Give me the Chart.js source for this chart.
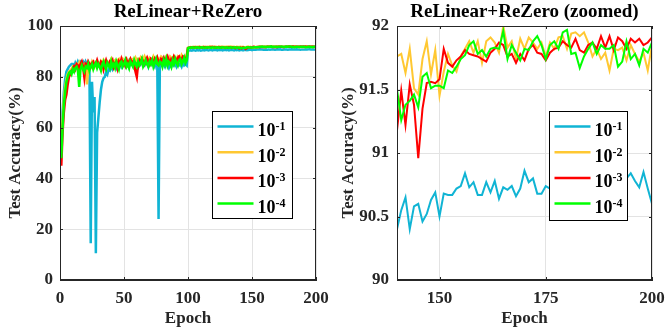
<!DOCTYPE html>
<html>
<head>
<meta charset="utf-8">
<script src="https://cdn.jsdelivr.net/npm/chart.js@4.4.1/dist/chart.umd.min.js"></script>
<style>
  html, body { margin: 0; padding: 0; background: #fff; }
  #wrap { position: relative; width: 665px; height: 333px; }
  #left { position: absolute; left: 0; top: 0; }
  #right { position: absolute; left: 332px; top: 0; }
</style>
</head>
<body>
<div id="wrap">
  <canvas id="left" width="332" height="333"></canvas>
  <canvas id="right" width="333" height="333"></canvas>
</div>
<script>
// test accuracy (%) per epoch (epochs 1..200)
const epochs = Array.from({ length: 200 }, (_, i) => i + 1);
const seriesLabels = ['10^-1', '10^-2', '10^-3', '10^-4'];
const seriesColors = ['#10b4d4', '#ffc832', '#ff0000', '#00ff00'];

const acc1 = [
  50, 66, 74, 79, 82, 83, 84, 84.5, 85, 85,
  84, 85.5, 84.5, 86, 85, 86, 85.5, 86, 84.5, 86,
  85, 84, 83, 14.5, 78, 66, 72, 10.5, 58, 64,
  70, 75, 78, 79.5, 80, 82, 81, 83, 82.5, 84,
  83, 84.5, 85, 83.5, 85, 84, 85.5, 84, 85, 86,
  84.5, 85, 86, 84, 85.5, 86, 84.5, 85, 86.5, 85,
  84, 86, 85, 86.5, 85, 84.5, 86, 85.5, 84, 86,
  85, 86.5, 85, 84, 86, 85, 24, 84, 85.5, 84.5,
  85, 84, 85.5, 84.5, 83.5, 85, 84, 85.5, 84.5, 85,
  84, 85.5, 84.5, 85, 84, 85.5, 84.5, 85, 84.5, 90.2,
  90.3, 90.4, 90.3, 90.5, 90.4, 90.3, 90.5, 90.4, 90.5, 90.3,
  90.4, 90.5, 90.4, 90.6, 90.5, 90.4, 90.5, 90.6, 90.4, 90.5,
  90.6, 90.5, 90.4, 90.6, 90.5, 90.6, 90.4, 90.5, 90.6, 90.5,
  90.6, 90.4, 90.5, 90.6, 90.5, 90.4, 90.6, 90.5, 90.6,
  90.40, 90.55, 90.65, 90.40, 90.58, 90.60, 90.46, 90.52, 90.63, 90.69,
  90.50, 90.68, 90.67, 90.67, 90.72, 90.74, 90.84, 90.73, 90.77, 90.67,
  90.67, 90.77, 90.69, 90.78, 90.64, 90.73, 90.71, 90.74, 90.66, 90.72,
  90.86, 90.77, 90.80, 90.68, 90.68, 90.74, 90.72, 90.78, 90.70, 90.76,
  90.74, 90.80, 90.71, 90.77, 90.75, 90.82, 90.73, 90.78, 90.70, 90.79,
  90.74, 90.77, 90.72, 90.76, 90.80, 90.84, 90.78, 90.73, 90.85, 90.72, 90.60
];

const acc2 = [
  52, 63, 71, 76, 79, 81, 82, 82.5, 83, 84,
  83.5, 84, 85, 84, 85.5, 84, 85, 84.5, 85, 84,
  77, 83, 85, 84.5, 86, 85, 84, 85.5, 86, 85,
  84.5, 86, 85, 86.5, 85.5, 84.5, 86, 85.5, 86, 87,
  85, 86, 86.5, 85, 86.5, 87, 85.5, 86, 87, 86,
  86.5, 87, 85.5, 86, 87, 86.5, 87, 86, 87.5, 86.5,
  87, 86, 87.5, 86.5, 87, 88, 86.5, 87, 86, 87.5,
  87, 86.5, 88, 87, 86.5, 87.5, 86, 87, 88, 87.5,
  86.5, 87, 88, 87, 86.5, 88, 87.5, 87, 88, 87,
  86.5, 88, 87.5, 87, 88.5, 87.5, 88, 87, 88.5, 91.4,
  91.6, 91.7, 91.6, 91.8, 91.7, 91.6, 91.8, 91.7, 91.8, 91.6,
  91.7, 91.8, 91.7, 91.6, 91.8, 91.7, 91.8, 91.9, 91.7, 91.8,
  91.7, 91.8, 91.6, 91.8, 91.7, 91.9, 91.7, 91.8, 91.7, 91.8,
  91.8, 91.7, 91.9, 91.8, 91.7, 91.8, 91.6, 91.8, 91.7,
  91.76, 91.78, 91.63, 91.82, 91.51, 91.46, 91.74, 91.88, 91.62, 91.81,
  91.45, 91.64, 91.78, 91.69, 91.64, 91.76, 91.82, 91.88, 91.79, 91.88,
  91.71, 91.88, 91.91, 91.87, 91.79, 92.00, 91.83, 91.88, 91.74, 91.90,
  91.82, 91.91, 91.87, 91.82, 91.87, 91.76, 91.87, 91.82, 91.91, 91.92,
  91.82, 91.94, 91.95, 91.92, 91.95, 91.87, 91.76, 91.82, 91.74, 91.79,
  91.65, 91.82, 91.81, 91.83, 91.73, 91.85, 91.78, 91.72, 91.79, 91.65, 91.85
];

const acc3 = [
  45, 58, 66, 71, 73, 77, 80, 81, 82, 83,
  84, 83, 85, 84.5, 83, 85, 86, 84, 80, 85,
  84.5, 86, 85, 84, 85.5, 86, 84.5, 85, 86.5, 85,
  84, 86, 85.5, 83, 85, 86.5, 85, 84.5, 86, 85.5,
  86.5, 84, 85.5, 86, 83.5, 86, 85, 87, 85.5, 86,
  84.5, 86.5, 85, 86, 87, 85.5, 86, 84.5, 82, 80,
  85, 86.5, 85.5, 87, 86, 85, 86.5, 87.5, 86, 85,
  87, 86.5, 85.5, 87, 86, 87.5, 86, 85.5, 87, 86.5,
  87.5, 86, 87, 88, 86.5, 85.5, 87, 86.5, 88, 87,
  86, 87.5, 88, 86.5, 87, 88, 87.5, 86.5, 88, 91.3,
  91.4, 91.5, 91.6, 91.5, 91.6, 91.7, 91.5, 91.6, 91.7, 91.6,
  91.5, 91.7, 91.6, 91.7, 91.5, 91.6, 91.7, 91.6, 91.8, 91.6,
  91.7, 91.5, 91.6, 91.7, 91.6, 91.5, 91.7, 91.6, 91.4, 91.6,
  91.5, 91.7, 91.6, 91.4, 91.6, 91.5, 91.3, 91.5, 91.4,
  91.18, 91.49, 91.22, 91.54, 91.38, 90.96, 91.35, 91.55, 91.56, 91.55,
  91.58, 91.82, 91.71, 91.68, 91.73, 91.76, 91.81, 91.78, 91.77, 91.76,
  91.74, 91.72, 91.79, 91.82, 91.87, 91.85, 91.76, 91.78, 91.71, 91.78,
  91.73, 91.82, 91.85, 91.79, 91.78, 91.73, 91.79, 91.82, 91.83, 91.88,
  91.85, 91.83, 91.90, 91.81, 91.79, 91.85, 91.87, 91.82, 91.92, 91.83,
  91.92, 91.81, 91.91, 91.88, 91.82, 91.90, 91.87, 91.90, 91.85, 91.87, 91.91
];

const acc4 = [
  48, 60, 69, 74, 78, 80, 81.5, 82, 81, 83,
  82, 83.5, 84, 82.5, 76, 83, 84.5, 83, 82, 84,
  83.5, 85, 82.5, 84, 85, 83, 84.5, 85.5, 83.5, 85,
  84, 82.5, 85, 86, 84, 83, 85.5, 84.5, 83.5, 86,
  84, 85, 83.5, 86, 84.5, 83, 85.5, 86, 84, 85,
  86.5, 84, 85, 83.5, 86, 85, 84, 86.5, 85, 84,
  86, 84.5, 85.5, 87, 84, 85, 86.5, 85, 84, 86,
  85, 86.5, 84, 85.5, 87, 85, 84.5, 86, 85.5, 84,
  86.5, 85, 87, 84.5, 86, 85.5, 84, 86.5, 85, 87,
  85.5, 84.5, 86.5, 87, 85, 86, 87.5, 85.5, 86.5, 91.3,
  91.5, 91.4, 91.6, 91.5, 91.4, 91.6, 91.5, 91.6, 91.4, 91.5,
  91.6, 91.5, 91.4, 91.6, 91.5, 91.6, 91.5, 91.4, 91.6, 91.5,
  91.4, 91.6, 91.5, 91.6, 91.4, 91.5, 91.6, 91.5, 91.4, 91.6,
  91.5, 91.4, 91.6, 91.5, 91.4, 91.5, 91.6, 91.4, 91.5,
  91.50, 91.26, 91.38, 91.41, 91.46, 91.36, 91.60, 91.63, 91.51, 91.53,
  91.53, 91.51, 91.65, 91.63, 91.68, 91.74, 91.77, 91.85, 91.88, 91.78,
  91.81, 91.76, 91.82, 91.83, 91.82, 91.96, 91.74, 91.85, 91.79, 91.73,
  91.82, 91.81, 91.88, 91.92, 91.85, 91.74, 91.85, 91.88, 91.82, 91.95,
  91.97, 91.78, 91.79, 91.67, 91.76, 91.82, 91.87, 91.78, 91.85, 91.82,
  91.82, 91.85, 91.68, 91.72, 91.88, 91.74, 91.78, 91.69, 91.82, 91.79, 91.87
];

const fullXTicks = [0, 50, 100, 150, 200];
const fullYTicks = [0, 20, 40, 60, 80, 100];
const zoomXTicks = [150, 175, 200];
const zoomYTicks = [90, 90.5, 91, 91.5, 92];

const allSeries = [acc1, acc2, acc3, acc4];
const FONT = "'Liberation Serif', 'Times New Roman', serif";
const AXIS = '#262626';

function makeDatasets(lineWidth) {
  return allSeries.map((vals, i) => ({
    label: seriesLabels[i],
    data: vals.map((v, j) => ({ x: epochs[j], y: v })),
    borderColor: seriesColors[i],
    backgroundColor: seriesColors[i],
    borderWidth: lineWidth,
    pointRadius: 0,
    tension: 0,
    order: 3 - i
  }));
}

// MATLAB style box with inward ticks on all four sides
const axesBox = {
  id: 'axesBox',
  afterDatasetsDraw(chart) {
    const { ctx, chartArea: a, scales: { x, y } } = chart;
    const len = 3;
    ctx.save();
    ctx.strokeStyle = AXIS;
    ctx.lineWidth = 1;
    ctx.strokeRect(Math.round(a.left) + 0.5, Math.round(a.top) + 0.5,
      Math.round(a.width) - 1, Math.round(a.height) - 1);
    ctx.beginPath();
    x.ticks.forEach(t => {
      const px = Math.round(x.getPixelForValue(t.value)) + 0.5;
      ctx.moveTo(px, a.bottom); ctx.lineTo(px, a.bottom - len);
      ctx.moveTo(px, a.top); ctx.lineTo(px, a.top + len);
    });
    y.ticks.forEach(t => {
      const py = Math.round(y.getPixelForValue(t.value)) + 0.5;
      ctx.moveTo(a.left, py); ctx.lineTo(a.left + len, py);
      ctx.moveTo(a.right, py); ctx.lineTo(a.right - len, py);
    });
    ctx.stroke();
    ctx.restore();
  }
};

// boxed legend inside the axes, labels as 10 with a raised exponent
const boxLegend = {
  id: 'boxLegend',
  afterDraw(chart, args, opts) {
    const { ctx, chartArea: a } = chart;
    const x0 = Math.round(a.right - opts.right - opts.width) + 0.5;
    const y0 = Math.round(a.top + opts.top) + 0.5;
    ctx.save();
    ctx.fillStyle = '#fff';
    ctx.fillRect(x0, y0, opts.width, opts.height);
    ctx.strokeStyle = '#000';
    ctx.lineWidth = 1;
    ctx.strokeRect(x0, y0, opts.width, opts.height);
    chart.data.datasets.forEach((ds, i) => {
      const ry = y0 + 15 + i * 25.7;
      ctx.strokeStyle = ds.borderColor;
      ctx.lineWidth = 2.5;
      ctx.beginPath();
      ctx.moveTo(x0 + 5, ry);
      ctx.lineTo(x0 + 41, ry);
      ctx.stroke();
      const [base, exp] = ds.label.split('^');
      ctx.fillStyle = '#000';
      ctx.textBaseline = 'alphabetic';
      ctx.font = 'bold 18px ' + FONT;
      ctx.fillText(base, x0 + 45, ry + 9.5);
      const w = ctx.measureText(base).width;
      ctx.font = 'bold 12px ' + FONT;
      ctx.fillText(exp, x0 + 45 + w, ry + 3.5);
    });
    ctx.restore();
  }
};

function makeChart(id, o) {
  return new Chart(document.getElementById(id), {
    type: 'line',
    data: { datasets: makeDatasets(o.lineWidth) },
    options: {
      responsive: false,
      animation: false,
      events: [],
      layout: { padding: { left: 0, right: o.padRight, top: 0, bottom: 0 } },
      plugins: {
        legend: { display: false },
        tooltip: { enabled: false },
        title: {
          display: true,
          fullSize: false,
          text: o.title,
          color: '#000',
          font: { family: FONT, size: 19, weight: 'bold', lineHeight: 1 },
          padding: { top: 3, bottom: 4 }
        },
        boxLegend: o.legend
      },
      scales: {
        x: {
          type: 'linear',
          min: o.xMin, max: o.xMax,
          afterBuildTicks: s => { s.ticks = o.xTicks.map(v => ({ value: v })); },
          afterFit: s => { s.height = 53; s.paddingLeft = 0; s.paddingRight = 0; },
          ticks: {
            color: AXIS, padding: 8, maxRotation: 0,
            font: { family: FONT, size: 17, weight: 'bold' },
            callback: v => String(v)
          },
          grid: { color: '#e3e3e3', drawTicks: false },
          border: { color: AXIS },
          title: {
            display: true, text: 'Epoch', color: AXIS,
            font: { family: FONT, size: 17, weight: 'bold', lineHeight: 1.2 },
            padding: { top: 0, bottom: 4 }
          }
        },
        y: {
          type: 'linear',
          min: o.yMin, max: o.yMax,
          afterBuildTicks: s => { s.ticks = o.yTicks.map(v => ({ value: v })); },
          afterFit: s => { s.width = o.yWidth; s.paddingTop = 0; s.paddingBottom = 0; },
          ticks: {
            color: AXIS, padding: o.yPad,
            font: { family: FONT, size: 17, weight: 'bold' },
            callback: v => String(v)
          },
          grid: { color: '#e3e3e3', drawTicks: false },
          border: { color: AXIS },
          title: {
            display: true, text: 'Test Accuracy(%)', color: AXIS,
            font: { family: FONT, size: 17, weight: 'bold', lineHeight: 1.2 },
            padding: { top: o.yTitlePad, bottom: 0 }
          }
        }
      }
    },
    plugins: [axesBox, boxLegend]
  });
}

makeChart('left', {
  title: 'ReLinear+ReZero',
  xMin: 0, xMax: 200, yMin: 0, yMax: 100,
  xTicks: fullXTicks, yTicks: fullYTicks,
  padRight: 16, yWidth: 60, yPad: 7, yTitlePad: 5, lineWidth: 2.5,
  legend: { top: 85, right: 24, width: 80, height: 107 }
});

makeChart('right', {
  title: 'ReLinear+ReZero (zoomed)',
  xMin: 140, xMax: 200, yMin: 90, yMax: 92,
  xTicks: zoomXTicks, yTicks: zoomYTicks,
  padRight: 13, yWidth: 65, yPad: 8, yTitlePad: 6, lineWidth: 2,
  legend: { top: 85, right: 25, width: 78, height: 109 }
});
</script>
</body>
</html>
